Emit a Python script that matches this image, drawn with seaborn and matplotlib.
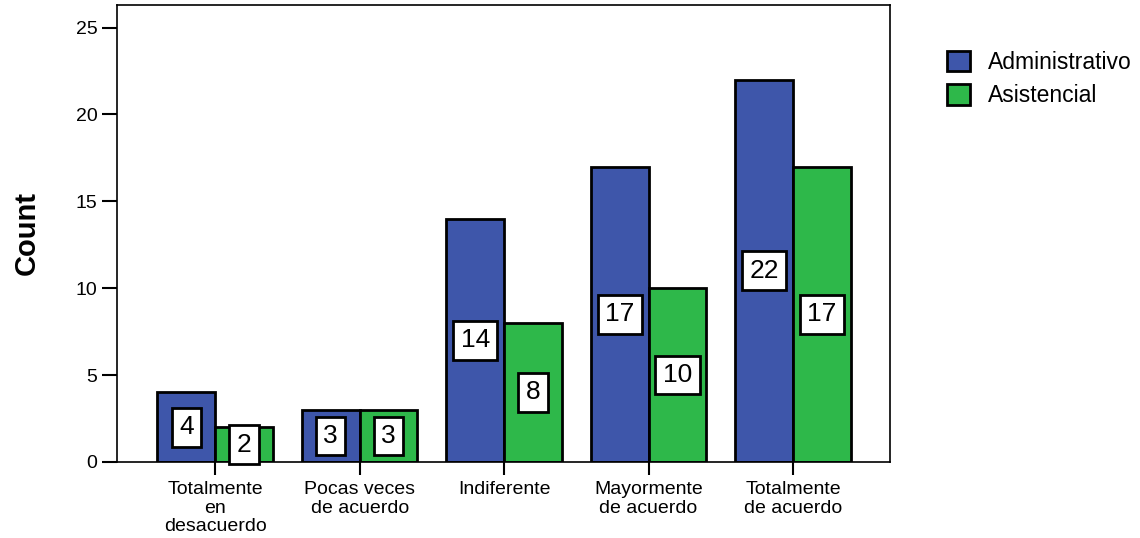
import matplotlib
matplotlib.use("Agg")
import matplotlib.pyplot as plt
import pandas as pd
import seaborn as sns

categories = [
    "Totalmente\nen\ndesacuerdo",
    "Pocas veces\nde acuerdo",
    "Indiferente",
    "Mayormente\nde acuerdo",
    "Totalmente\nde acuerdo",
]
groups = ["Administrativo", "Asistencial"]
administrativo = [4, 3, 14, 17, 22]
asistencial = [2, 3, 8, 10, 17]
colors = ["#3E56AA", "#2EB84A"]

df = pd.DataFrame(
    {
        "cat": categories * 2,
        "grupo": [groups[0]] * 5 + [groups[1]] * 5,
        "count": administrativo + asistencial,
    }
)

sns.set_style("ticks", {"text.color": "black", "axes.labelcolor": "black",
                        "xtick.color": "black", "ytick.color": "black",
                        "axes.edgecolor": "black"})
plt.rcParams["font.family"] = ["Liberation Sans", "DejaVu Sans"]

fig = plt.figure(figsize=(11.4, 5.38), dpi=100)
ax = fig.add_axes([0.1026, 0.1413, 0.678, 0.8494])

sns.barplot(
    data=df, x="cat", y="count", hue="grupo", order=categories,
    hue_order=groups, palette=colors, width=0.8, saturation=1,
    edgecolor="black", linewidth=2, ax=ax, legend=True,
)

for cont in ax.containers:
    ax.bar_label(
        cont, label_type="center", fontsize=19, color="black",
        bbox=dict(boxstyle="square,pad=0.28", fc="white", ec="black", lw=2),
    )

ax.set_xlim(-0.68, 4.67)
ax.set_ylim(0, 26.3)
ax.set_yticks([0, 5, 10, 15, 20, 25])
ax.tick_params(axis="y", length=11, width=1.5, labelsize=14, pad=3)
ax.tick_params(axis="x", length=9, width=1.5, labelsize=14, pad=5)
for lab in ax.get_xticklabels():
    lab.set_linespacing(1.1)
for s in ax.spines.values():
    s.set_visible(True)
    s.set_linewidth(1.2)
    s.set_color("black")
ax.set_xlabel("")
ax.set_ylabel("Count", fontsize=21, fontweight="bold", fontstretch="condensed")
ax.yaxis.set_label_coords(-0.098, 0.5)

handles, labels = ax.get_legend_handles_labels()
ax.legend(
    handles, labels, loc="upper left",
    bbox_to_anchor=(926 / 1140, 1 - 30 / 538), bbox_transform=fig.transFigure,
    frameon=False, fontsize=16.5, handlelength=1.0, handleheight=1.0,
    handletextpad=0.8, labelspacing=0.45,
)

fig.savefig("out.png", dpi=100)
